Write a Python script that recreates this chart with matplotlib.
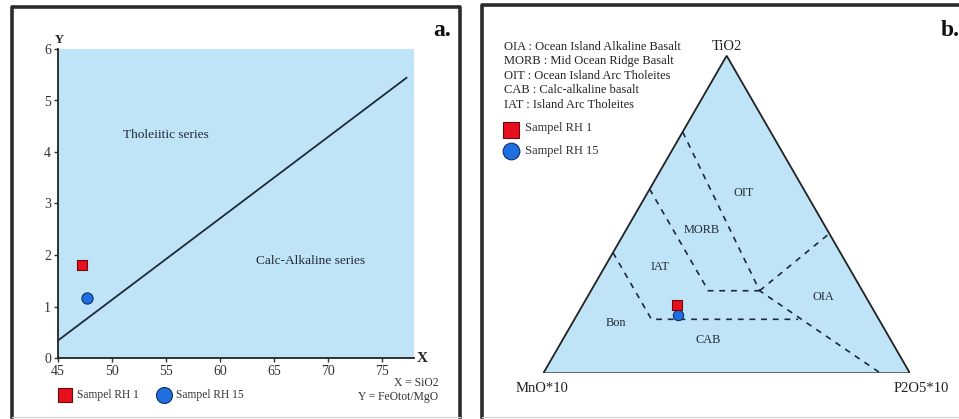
import matplotlib
matplotlib.use("Agg")
import matplotlib.pyplot as plt
import numpy as np
from matplotlib.patches import Polygon

plt.rcParams['font.family'] = ['Liberation Serif', 'DejaVu Serif']

# ---------------- data ----------------
# Panel a: SiO2 vs FeOtot/MgO
div_x = [45.0, 77.3]
div_y = [0.34, 5.44]
sample_names = ["Sampel RH 1", "Sampel RH 15"]
sio2 = [47.2, 47.65]
feo_mgo = [1.80, 1.17]
x_ticks = [45, 50, 55, 60, 65, 70, 75]
y_ticks = [0, 1, 2, 3, 4, 5, 6]

# Panel b: ternary TiO2 - MnO*10 - P2O5*10 (fractions TiO2, P2O5*10)
bon_iat_T = [0.38, 0.17, 0.17]
bon_iat_P = [0.00, 0.21, 0.61]
iat_morb_T = [0.58, 0.26, 0.26]
iat_morb_P = [0.00, 0.32, 0.46]
morb_oit_T = [0.76, 0.26, 0.00]
morb_oit_P = [0.00, 0.46, 0.92]
oia_T = [0.26, 0.44]
oia_P = [0.46, 0.56]
samp_T = [0.215, 0.184]
samp_P = [0.258, 0.274]
legend_lines = ["OIA : Ocean Island Alkaline Basalt",
                "MORB : Mid Ocean Ridge Basalt",
                "OIT : Ocean Island Arc Tholeites",
                "CAB : Calc-alkaline basalt",
                "IAT : Island Arc Tholeites"]

W, H = 959, 419
fig = plt.figure(figsize=(W / 100, H / 100), dpi=100)
fig.patch.set_facecolor('white')

def fx(px):
    return px / W
def fy(py):
    return 1 - py / H

BLUE_BG = '#bfe4f8'
RED = '#e8101e'
BLUE = '#1f6fe0'
TXT = '#222a33'

# ---------- panel borders ----------
border_kw = dict(color='#2b2b2b', lw=2.6, transform=fig.transFigure, solid_capstyle='projecting')
fig.add_artist(plt.Line2D([fx(12), fx(12), fx(459.5), fx(459.5)],
                          [fy(417), fy(7), fy(7), fy(417)], **border_kw))
fig.add_artist(plt.Line2D([fx(12), fx(459.5)], [fy(417), fy(417)],
                          color='#d0d0d0', lw=0.8, transform=fig.transFigure))
fig.add_artist(plt.Line2D([fx(481.5), fx(481.5), fx(962)],
                          [fy(417), fy(5), fy(5)], **border_kw))
fig.add_artist(plt.Line2D([fx(481.5), fx(962)], [fy(417), fy(417)],
                          color='#d0d0d0', lw=0.8, transform=fig.transFigure))

# ---------- panel a ----------
axa = fig.add_axes([fx(58), fy(358), fx(414) - fx(58), fy(49) - fy(358)])
axa.set_facecolor(BLUE_BG)
axa.set_xlim(45, 78)
axa.set_ylim(0, 6)
for s in ['top', 'right']:
    axa.spines[s].set_visible(False)
for s in ['left', 'bottom']:
    axa.spines[s].set_color('#222222')
    axa.spines[s].set_linewidth(1.3)
axa.set_xticks(x_ticks)
axa.set_yticks(y_ticks)
axa.tick_params(direction='out', length=3, width=1, labelsize=10, colors='#333333', pad=2)
axa.plot(div_x, div_y, color='#1e2a38', lw=1.3)
axa.scatter(sio2[0], feo_mgo[0], marker='s', s=55, color=RED, edgecolor='#6a0a0a', lw=0.8, zorder=3)
axa.scatter(sio2[1], feo_mgo[1], marker='o', s=65, color=BLUE, edgecolor='#0c2f6a', lw=0.8, zorder=3)
axa.text(55.0, 4.33, "Tholeiitic series", ha='center', va='center', fontsize=9.6, color=TXT)
axa.text(68.4, 1.89, "Calc-Alkaline series", ha='center', va='center', fontsize=9.6, color=TXT)

fig.text(fx(59), fy(40), "Y", ha='center', va='center', fontsize=9, fontweight='bold', color='#222222')
fig.text(fx(422), fy(358), "X", ha='center', va='center', fontsize=11, fontweight='bold', color='#222222')
fig.text(fx(442), fy(30), "a.", ha='center', va='center', fontsize=17, fontweight='bold', color='#111111')

# legend panel a
fig.add_artist(plt.Line2D([fx(65)], [fy(395)], marker='s', markersize=9.5, color=RED,
                          markeredgecolor='#6a0a0a', markeredgewidth=0.8, transform=fig.transFigure))
fig.text(fx(77), fy(395), sample_names[0], ha='left', va='center', fontsize=8.3, color='#333333')
fig.add_artist(plt.Line2D([fx(164)], [fy(395)], marker='o', markersize=11.5, color=BLUE,
                          markeredgecolor='#0c2f6a', markeredgewidth=0.8, transform=fig.transFigure))
fig.text(fx(176), fy(395), sample_names[1], ha='left', va='center', fontsize=8.3, color='#333333')
fig.text(fx(438), fy(383), "X = SiO2", ha='right', va='center', fontsize=8.4, color='#333333')
fig.text(fx(438), fy(397), "Y = FeOtot/MgO", ha='right', va='center', fontsize=8.4, color='#333333')

# ---------- panel b ----------
L = 366.7
axb = fig.add_axes([fx(543.3), fy(373.3), L / W, L / H])
axb.set_xlim(0, 1)
axb.set_ylim(0, 1)
axb.axis('off')
S3 = np.sqrt(3) / 2

def tern(T, P):
    T = np.asarray(T, float)
    P = np.asarray(P, float)
    return P + T / 2, T * S3

tri = Polygon([[0, 0], [1, 0], [0.5, S3]], closed=True, facecolor=BLUE_BG,
              edgecolor='#222222', lw=1.3, zorder=1)
axb.add_patch(tri)
dash_kw = dict(color='#1b2a40', lw=1.2, linestyle=(0, (3.5, 3.5)), zorder=2)
for T, P in [(bon_iat_T, bon_iat_P), (iat_morb_T, iat_morb_P),
             (morb_oit_T, morb_oit_P), (oia_T, oia_P)]:
    x, y = tern(T, P)
    axb.plot(x, y, **dash_kw)

sx, sy = tern(samp_T, samp_P)
axb.scatter(sx[0], sy[0], marker='s', s=55, color=RED, edgecolor='#6a0a0a', lw=0.8, zorder=4)
axb.scatter(sx[1], sy[1], marker='o', s=55, color=BLUE, edgecolor='#0c2f6a', lw=0.8, zorder=3)

field_labels = [("OIT", 0.5454, 0.4925), ("MORB", 0.432, 0.3908), ("IAT", 0.3183, 0.2907),
                ("OIA", 0.7636, 0.2089), ("Bon", 0.198, 0.138), ("CAB", 0.45, 0.0908)]
for lab, x, y in field_labels:
    axb.text(x, y, lab, ha='center', va='center', fontsize=8.8, color=TXT, zorder=5)

fig.text(fx(726.7), fy(46.5), "TiO2", ha='center', va='center', fontsize=10.5, color='#222222')
fig.text(fx(541.7), fy(388.5), "MnO*10", ha='center', va='center', fontsize=10.5, color='#222222')
fig.text(fx(921.7), fy(388.5), "P2O5*10", ha='center', va='center', fontsize=10.5, color='#222222')
fig.text(fx(950), fy(30), "b.", ha='center', va='center', fontsize=17, fontweight='bold', color='#111111')

for i, line in enumerate(legend_lines):
    fig.text(fx(504), fy(46.5 + 14.6 * i), line, ha='left', va='center', fontsize=9, color='#222222')
fig.add_artist(plt.Line2D([fx(511)], [fy(129.5)], marker='s', markersize=11.5, color=RED,
                          markeredgecolor='#6a0a0a', markeredgewidth=0.8, transform=fig.transFigure))
fig.text(fx(525), fy(128.5), sample_names[0], ha='left', va='center', fontsize=9, color='#333333')
fig.add_artist(plt.Line2D([fx(511)], [fy(151.5)], marker='o', markersize=12, color=BLUE,
                          markeredgecolor='#0c2f6a', markeredgewidth=0.8, transform=fig.transFigure))
fig.text(fx(525), fy(151), sample_names[1], ha='left', va='center', fontsize=9, color='#333333')

fig.savefig("out.png", dpi=100)
